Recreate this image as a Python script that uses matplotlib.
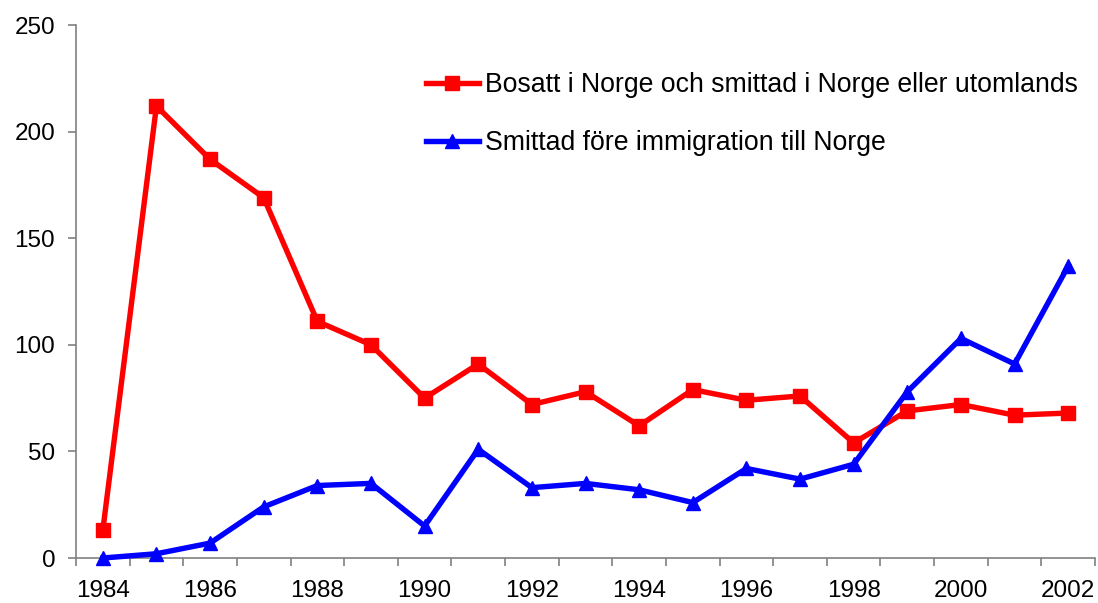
import matplotlib
matplotlib.use("Agg")
import matplotlib.pyplot as plt
import numpy as np

plt.rcParams['font.family'] = ['Liberation Sans', 'DejaVu Sans']

# data
years = list(range(1984, 2003))
bosatt = [13, 212, 187, 169, 111, 100, 75, 91, 72, 78, 62, 79, 74, 76, 54, 69, 72, 67, 68]
smittad = [0, 2, 7, 24, 34, 35, 15, 51, 33, 35, 32, 26, 42, 37, 44, 78, 103, 91, 137]
labels = ["Bosatt i Norge och smittad i Norge eller utomlands",
          "Smittad före immigration till Norge"]

fig = plt.figure(figsize=(10.98, 6.03), dpi=100)
ax = fig.add_axes([0.0692, 0.0746, 0.9281, 0.8839])

x = np.arange(len(years))
ax.plot(x, bosatt, color='#ff0000', lw=3.9, marker='s', ms=9.5, label=labels[0],
        clip_on=False, zorder=3)
ax.plot(x, smittad, color='#0000ff', lw=3.9, marker='^', ms=10, label=labels[1],
        clip_on=False, zorder=3)

ax.set_xlim(-0.5, len(years) - 0.5)
ax.set_ylim(0, 250)

# tick marks between categories, labels every second year
ax.set_xticks(np.arange(-0.5, len(years), 1))
ax.set_xticklabels([])
ax.set_xticks(x[::2], minor=True)
ax.set_xticklabels([str(y) for y in years[::2]], minor=True)
ax.tick_params(axis='x', which='major', length=6, width=1.2, color='#808080')
ax.tick_params(axis='x', which='minor', length=0, pad=16, labelsize=17.5)

ax.set_yticks(range(0, 251, 50))
ax.tick_params(axis='y', length=6, width=1.2, color='#808080', pad=9, labelsize=17.5)

for s in ['top', 'right']:
    ax.spines[s].set_visible(False)
for s in ['left', 'bottom']:
    ax.spines[s].set_color('#808080')
    ax.spines[s].set_linewidth(1.2)

ax.legend(loc='upper left', bbox_to_anchor=(0.343, 0.912), frameon=False,
          fontsize=19.2, handlelength=2.0, handletextpad=0.22,
          labelspacing=1.2, numpoints=1, borderpad=0, borderaxespad=0)

fig.savefig('out.png', dpi=100)
